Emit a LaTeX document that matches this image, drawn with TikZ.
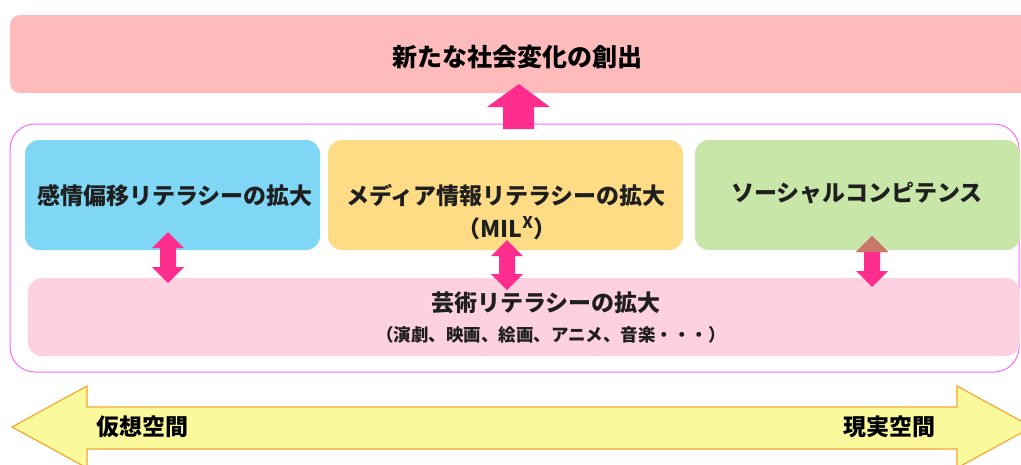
\documentclass[tikz,border=0pt]{standalone}
\usepackage{fontspec}
\setmainfont{Noto Sans CJK JP}
\definecolor{titlepink}{HTML}{FDBBBB}
\definecolor{outerline}{HTML}{FF66FF}
\definecolor{boxblue}{HTML}{7FD6F5}
\definecolor{boxyellow}{HTML}{FDDC85}
\definecolor{boxgreen}{HTML}{C8E6A8}
\definecolor{boxpink}{HTML}{FDD1E0}
\definecolor{arrowpink}{HTML}{FF2E8E}
\definecolor{brownhead}{HTML}{C87868}
\definecolor{bandfill}{HTML}{FAFA9C}
\definecolor{bandline}{HTML}{F5A733}
\newcommand\vdarr[3]{%
  \fill[arrowpink] (#1,#2) -- (#1+16,#2+16) -- (#1+8,#2+16) -- (#1+8,#3-16) -- (#1+16,#3-16) -- (#1,#3)
    -- (#1-16,#3-16) -- (#1-8,#3-16) -- (#1-8,#2+16) -- (#1-16,#2+16) -- cycle;}
\begin{document}
\begin{tikzpicture}[x=1pt,y=-1pt,
  box/.style={rounded corners=14pt, inner sep=0pt, draw=none},
  lbl/.style={font=\fontsize{23}{28}\selectfont\bfseries, inner sep=0pt, text=black!88},
  sublbl/.style={font=\fontsize{17.5}{21}\selectfont\bfseries, inner sep=0pt, text=black!88},
  bigl/.style={font=\fontsize{25}{30}\selectfont\bfseries, inner sep=0pt, text=black},
  bandl/.style={font=\fontsize{23}{28}\selectfont\bfseries, inner sep=0pt, text=black}]
\useasboundingbox (0,0) rectangle (1021,464);
\clip (0,0) rectangle (1021,464);

% title box
\node[box, fill=titlepink, rounded corners=10pt, minimum width=1030pt, minimum height=78pt] (title) at (525,54) {};
\node[bigl] (titletext) at (517,57) {新たな社会変化の創出};

% outer frame
\node[draw=outerline, line width=1pt, rounded corners=25pt, fill=white, inner sep=0pt,
  minimum width=1009pt, minimum height=248pt] (outer) at (514.5,248) {};

% up arrow
\fill[arrowpink] (519,84) -- (550,107) -- (534,107) -- (534,129) -- (503,129) -- (503,107) -- (487,107) -- cycle;

% inner boxes
\node[box, fill=boxblue, minimum width=295pt, minimum height=110pt] (blue) at (172.5,195) {};
\node[lbl] (bluetext) at (175,196) {感情偏移リテラシーの拡大};

\node[box, fill=boxyellow, minimum width=355pt, minimum height=110pt] (yellow) at (505.5,195) {};
\node[lbl] (yellowtext) at (506,196) {メディア情報リテラシーの拡大};
\node[lbl] (miltext) at (507,228) {（MIL\textsuperscript{X}）};

\node[box, fill=boxgreen, minimum width=325pt, minimum height=110pt] (green) at (857.5,195) {};
\node[lbl] (greentext) at (857,193) {ソーシャルコンピテンス};

\node[box, fill=boxpink, minimum width=992pt, minimum height=78pt] (pink) at (524,317) {};
\node[lbl] (pinktext) at (546,303) {芸術リテラシーの拡大};
\node[sublbl] (pinksub) at (551,335) {（演劇、映画、絵画、アニメ、音楽・・・）};

% double arrows
\vdarr{168}{232}{283}
\vdarr{507}{240}{290}
\vdarr{872}{236}{287}
\fill[brownhead] (872,236) -- (888,252) -- (856,252) -- cycle;

% bottom band arrow
\draw[fill=bandfill, draw=bandline, line width=1.2pt, line join=miter]
  (12,427) -- (87,386) -- (87,407) -- (957,407) -- (957,386) -- (1032,427)
  -- (957,468) -- (957,449) -- (87,449) -- (87,468) -- cycle;
\node[bandl] (virt) at (142,427) {仮想空間};
\node[bandl] (real) at (889,427) {現実空間};
\end{tikzpicture}
\end{document}
